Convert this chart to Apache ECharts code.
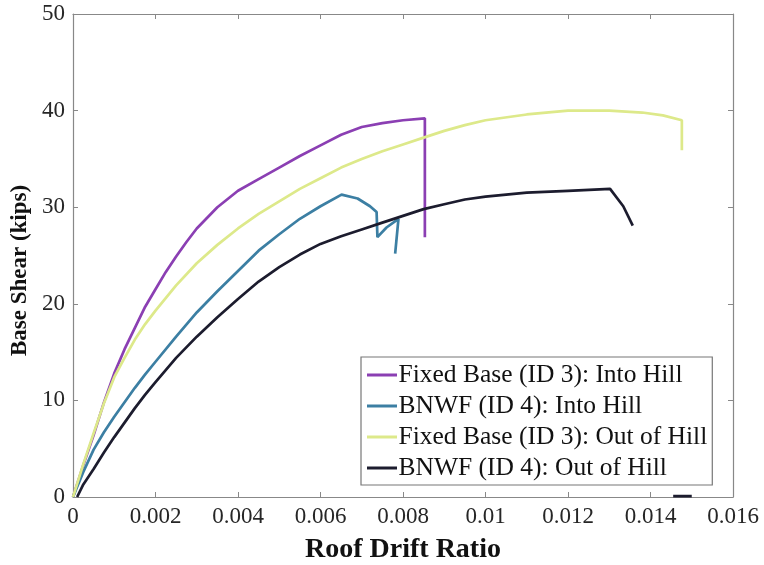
<!DOCTYPE html>
<html>
<head>
<meta charset="utf-8">
<script src="https://cdn.jsdelivr.net/npm/echarts@6/dist/echarts.min.js"></script>
<style>html,body{margin:0;padding:0;background:#fff}#c{width:764px;height:565px}</style>
</head>
<body>
<div id="c"></div>
<script>
var seriesNames = ['Fixed Base (ID 3): Into Hill','BNWF (ID 4): Into Hill','Fixed Base (ID 3): Out of Hill','BNWF (ID 4): Out of Hill'];
var xTicks = [0,0.002,0.004,0.006,0.008,0.01,0.012,0.014,0.016];
var yTicks = [0,10,20,30,40,50];
var fixedInto = [[0,0],[0.00025,3.3],[0.0005,6.4],[0.00075,9.8],[0.001,12.8],[0.00125,15.3],[0.0015,17.5],[0.00175,19.7],[0.002,21.5],[0.00225,23.3],[0.0025,24.9],[0.00275,26.4],[0.003,27.8],[0.0035,30.0],[0.004,31.7],[0.0045,32.9],[0.005,34.1],[0.0055,35.3],[0.006,36.4],[0.0065,37.5],[0.007,38.3],[0.0075,38.7],[0.008,39.0],[0.00853,39.2],[0.00853,26.9]];
var bnwfInto = [[0,0],[0.00025,2.6],[0.0005,4.9],[0.00075,6.7],[0.001,8.3],[0.00125,9.8],[0.0015,11.3],[0.00175,12.7],[0.002,14.0],[0.0025,16.6],[0.003,19.1],[0.0035,21.3],[0.004,23.4],[0.0045,25.5],[0.005,27.2],[0.0055,28.8],[0.006,30.1],[0.00651,31.3],[0.0069,30.9],[0.0072,30.1],[0.00736,29.5],[0.00738,26.9],[0.0076,27.9],[0.00789,28.8],[0.00781,25.2]];
var fixedOut = [[0,0],[0.00025,3.4],[0.0005,6.6],[0.00075,9.7],[0.001,12.4],[0.00125,14.4],[0.0015,16.3],[0.00175,17.9],[0.002,19.3],[0.0025,21.9],[0.003,24.2],[0.0035,26.1],[0.004,27.8],[0.0045,29.3],[0.005,30.6],[0.0055,31.9],[0.006,33.0],[0.0065,34.1],[0.007,35.0],[0.0075,35.8],[0.008,36.5],[0.0085,37.2],[0.009,37.9],[0.0095,38.5],[0.01,39.0],[0.011,39.6],[0.012,40.0],[0.013,40.0],[0.0138,39.8],[0.0143,39.5],[0.01476,39.0],[0.01476,35.9]];
var bnwfOut = [[0.0001,0],[0.00025,1.3],[0.0005,2.9],[0.00075,4.6],[0.001,6.2],[0.00125,7.7],[0.0015,9.2],[0.00175,10.6],[0.002,11.9],[0.0025,14.4],[0.003,16.6],[0.0035,18.6],[0.004,20.5],[0.0045,22.3],[0.005,23.8],[0.0055,25.1],[0.006,26.2],[0.0065,27.0],[0.007,27.7],[0.0075,28.4],[0.008,29.1],[0.0085,29.8],[0.009,30.3],[0.0095,30.8],[0.01,31.1],[0.011,31.5],[0.012,31.7],[0.01302,31.9],[0.01334,30.1],[0.01357,28.1]];
var bnwfOutTail = [[0.01455,0.1],[0.0150,0.1]];
var colors = ['#8b3fb3','#3c7fa3','#dde98a','#1c1c2e'];

var chart = echarts.init(document.getElementById('c'));
var font = 'Liberation Serif';
var lbl = {fontFamily: font, fontSize: 23, color: '#262626'};
function mkSeries(name, data, color) {
  return {type:'line', name:name, data:data, showSymbol:false, symbol:'none', smooth:false,
    lineStyle:{color:color, width:2.7}, itemStyle:{color:color}, animation:false, z:3};
}
var axisLineStyle = {show:true, onZero:false, lineStyle:{color:'#888', width:1.2}};
var tickStyle = {show:true, inside:true, length:5, lineStyle:{color:'#888'}};
chart.setOption({
  animation:false,
  grid:{left:73, right:31, top:14, bottom:68, containLabel:false, outerBoundsMode:'none'},
  legend:{
    orient:'vertical', left:361, top:357,
    data:seriesNames,
    icon:'path://M0,0 L30,0 L30,3 L0,3 Z', itemWidth:31, itemHeight:3, itemGap:5,
    padding:[5,5,4,6], backgroundColor:'#fff', borderColor:'#777', borderWidth:1.2,
    textStyle:{fontFamily:font, fontSize:25.5, color:'#111', lineHeight:25, padding:[0,0,0,-4]},
    selectedMode:false
  },
  xAxis:[{
    type:'value', min:0, max:0.016, interval:0.002,
    name:'Roof Drift Ratio', nameLocation:'middle', nameGap:39,
    nameTextStyle:{fontFamily:font, fontSize:28, fontWeight:'bold', color:'#111'},
    axisLine:axisLineStyle, axisTick:tickStyle,
    axisLabel:Object.assign({margin:8, formatter:function(v){return String(+v.toFixed(3));}}, lbl),
    splitLine:{show:false}
  },{
    type:'value', position:'top', min:0, max:0.016, interval:0.002,
    axisLine:axisLineStyle, axisTick:tickStyle,
    axisLabel:{show:false}, splitLine:{show:false}
  }],
  yAxis:[{
    type:'value', min:0, max:50, interval:10,
    name:'Base Shear (kips)', nameLocation:'middle', nameGap:36,
    nameTextStyle:{fontFamily:font, fontSize:23, fontWeight:'bold', color:'#111', padding:[0,30,0,0]},
    axisLine:axisLineStyle, axisTick:tickStyle,
    axisLabel:Object.assign({margin:8}, lbl),
    splitLine:{show:false}
  },{
    type:'value', position:'right', min:0, max:50, interval:10,
    axisLine:axisLineStyle, axisTick:tickStyle,
    axisLabel:{show:false}, splitLine:{show:false}
  }],
  series:[
    mkSeries(seriesNames[0], fixedInto, colors[0]),
    mkSeries(seriesNames[1], bnwfInto, colors[1]),
    mkSeries(seriesNames[2], fixedOut, colors[2]),
    mkSeries(seriesNames[3], bnwfOut, colors[3]),
    mkSeries(seriesNames[3], bnwfOutTail, colors[3])
  ]
});
</script>
</body>
</html>
